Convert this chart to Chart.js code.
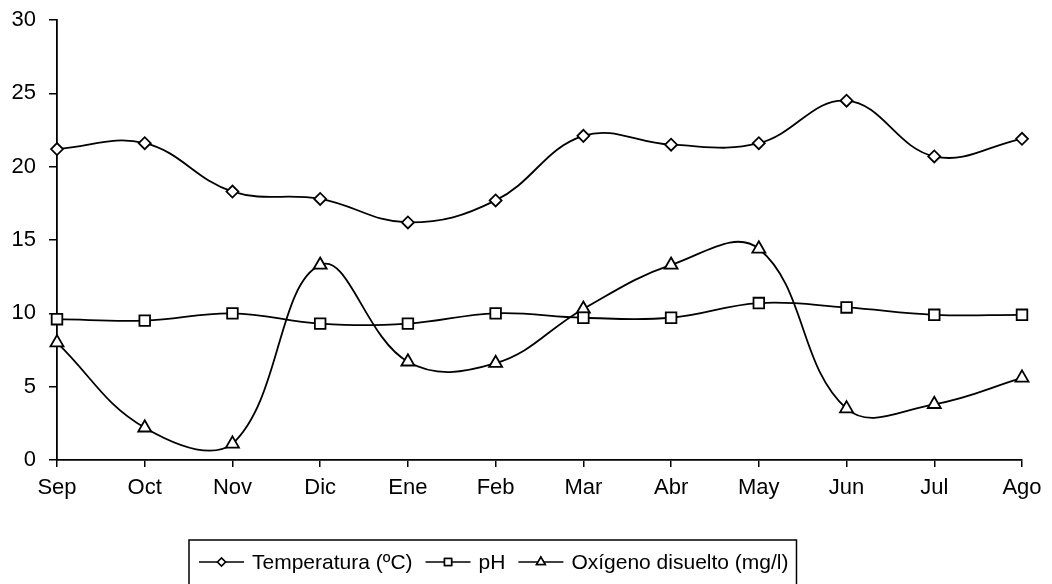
<!DOCTYPE html>
<html>
<head>
<meta charset="utf-8">
<script src="https://cdn.jsdelivr.net/npm/chart.js@4/dist/chart.umd.min.js"></script>
<style>
  html, body { margin: 0; padding: 0; background: #fff; }
  #wrap { width: 1052px; height: 584px; }
</style>
</head>
<body>
<div id="wrap"><canvas id="calidad" width="1052" height="584"></canvas></div>
<script>
const months = ['Sep', 'Oct', 'Nov', 'Dic', 'Ene', 'Feb', 'Mar', 'Abr', 'May', 'Jun', 'Jul', 'Ago']
const temperatura = [21.2, 21.6, 18.3, 17.8, 16.2, 17.7, 22.1, 21.5, 21.6, 24.5, 20.7, 21.9]
const ph = [9.6, 9.5, 10.0, 9.3, 9.3, 10.0, 9.7, 9.7, 10.7, 10.4, 9.9, 9.9]
const oxigeno = [8.0, 2.2, 1.1, 13.3, 6.7, 6.6, 10.3, 13.3, 14.4, 3.5, 3.8, 5.6]
const seriesNames = ['Temperatura (ºC)', 'pH', 'Oxígeno disuelto (mg/l)']
const markers = ['rectRot', 'rect', 'triangle']
const markerSize = [6, 7.5, 7.5]

const FONT = "'Liberation Sans', Arial, sans-serif"

const dataset = {
  borderColor: '#000',
  borderWidth: 1.8,
  pointBackgroundColor: '#fff',
  pointBorderColor: '#000',
  pointBorderWidth: 1.8,
  tension: 0.4,
  fill: false,
  clip: false,
}

// legend in a framed box under the plot: short line + marker, then the name
const boxLegend = {
  id: 'boxLegend',
  afterDraw(chart) {
    const ctx = chart.ctx
    ctx.save()
    ctx.font = '21px ' + FONT
    ctx.textBaseline = 'middle'
    ctx.strokeStyle = '#000'

    const top = 540, left = 189, cy = 562
    let x = left + 10
    chart.data.datasets.forEach((ds, i) => {
      ctx.lineWidth = 1.5
      ctx.beginPath()
      ctx.moveTo(x, cy)
      ctx.lineTo(x + 45, cy)
      ctx.stroke()
      ctx.fillStyle = '#fff'
      Chart.helpers.drawPoint(ctx, { pointStyle: markers[i], radius: i === 0 ? 4 : 5, borderWidth: 1.5 }, x + 22.5, cy)
      ctx.fill()
      ctx.stroke()
      ctx.fillStyle = '#000'
      x += 53
      ctx.fillText(ds.label, x, cy + 1)
      x += ctx.measureText(ds.label).width + 13
    })
    ctx.lineWidth = 1.5
    ctx.strokeRect(left, top, x - 5 - left, 60)
    ctx.restore()
  },
}

new Chart(document.getElementById('calidad'), {
  type: 'line',
  data: {
    labels: months,
    datasets: [temperatura, ph, oxigeno].map((data, i) => ({
      ...dataset,
      label: seriesNames[i],
      data,
      pointStyle: markers[i],
      pointRadius: markerSize[i],
      pointHoverRadius: markerSize[i],
    })),
  },
  options: {
    responsive: false,
    animation: false,
    events: [],
    layout: { padding: { top: 20, right: 30, bottom: 80, left: 0 } },
    plugins: {
      legend: { display: false },
      tooltip: { enabled: false },
    },
    scales: {
      x: {
        offset: false,
        afterFit: s => { s.height = 44 },
        grid: { drawOnChartArea: false, drawTicks: true, tickLength: 7, color: '#000', lineWidth: 1.5 },
        border: { color: '#000', width: 1.8 },
        ticks: { color: '#000', font: { family: FONT, size: 22 }, padding: 8, maxRotation: 0, autoSkip: false },
      },
      y: {
        min: 0,
        max: 30,
        // fixed axis width; the top label may run into the padding
        afterFit: s => { s.width = 57; s.paddingTop = 0; s.paddingBottom = 0 },
        grid: { drawOnChartArea: false, drawTicks: true, tickLength: 8, color: '#000', lineWidth: 1.5 },
        border: { color: '#000', width: 1.8 },
        ticks: { stepSize: 5, color: '#000', font: { family: FONT, size: 22 }, padding: 13 },
      },
    },
  },
  plugins: [boxLegend],
})
</script>
</body>
</html>
